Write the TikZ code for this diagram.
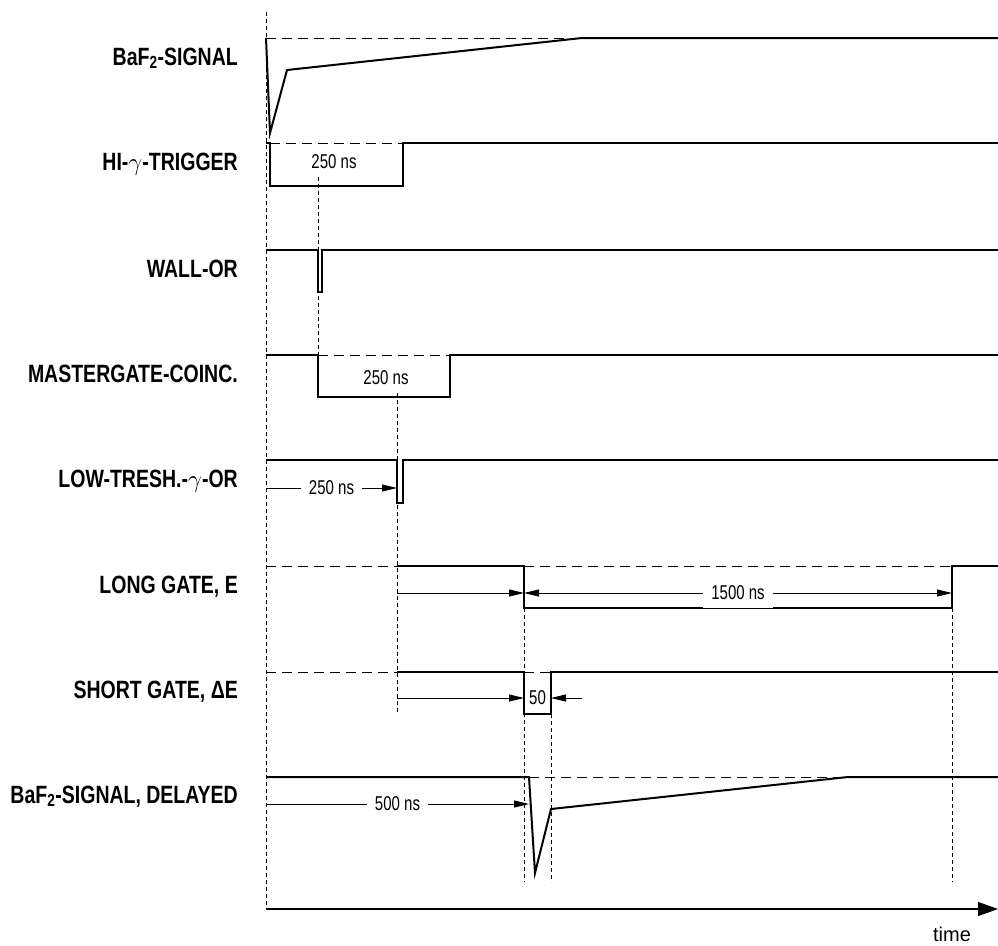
\documentclass[tikz,border=0pt]{standalone}
\usepackage{fontspec}
\setmainfont{Liberation Sans}
\newfontfamily\lblfont[FakeStretch=0.78]{Liberation Sans}
\newfontfamily\dimfont[FakeStretch=0.75]{Liberation Sans}
\usetikzlibrary{arrows.meta}
\definecolor{tdink}{RGB}{0,0,0}
\definecolor{tdpaper}{RGB}{255,255,255}
\tikzset{
  sig/.style={draw=tdink, line width=2pt, line join=miter},
  base/.style={draw=tdink, line width=0.9pt, dash pattern=on 10pt off 6pt},
  guide/.style={draw=tdink, line width=0.9pt, dash pattern=on 4pt off 3pt},
  dimarr/.style={-{Triangle[length=15pt,width=7pt]}, draw=tdink, line width=0.9pt},
  dimboth/.style={{Triangle[length=15pt,width=7pt]}-{Triangle[length=15pt,width=7pt]}, draw=tdink, line width=0.9pt},
  dimtxt/.style={inner sep=2pt, font=\dimfont\fontsize{20}{22}\selectfont},
  dimcut/.style={dimtxt, fill=tdpaper, inner sep=8pt},
  signame/.style={anchor=base east, inner sep=0pt, font=\lblfont\bfseries\fontsize{25}{28}\selectfont},
  axis/.style={-{Triangle[length=20pt,width=14pt]}, draw=tdink, line width=1.2pt}
}
\begin{document}
\begin{tikzpicture}[x=1pt,y=-1pt]
  \useasboundingbox[fill=tdpaper] (0,0) rectangle (998,945);
  \node[signame] (n1) at (238,65) {BaF\textsubscript{2}-SIGNAL};
  \node[signame] (n2) at (238,170) {HI-$\gamma$-TRIGGER};
  \node[signame] (n3) at (238,277) {WALL-OR};
  \node[signame] (n4) at (238,382) {MASTERGATE-COINC.};
  \node[signame] (n5) at (238,487) {LOW-TRESH.-$\gamma$-OR};
  \node[signame] (n6) at (238,593) {LONG GATE, E};
  \node[signame] (n7) at (238,698) {SHORT GATE, ΔE};
  \node[signame] (n8) at (238,803) {BaF\textsubscript{2}-SIGNAL, DELAYED};
  \draw[base] (266,38) -- (582,38);
  \draw[base] (270,143) -- (403,143);
  \draw[base] (318,355) -- (450,355);
  \draw[base] (266,566) -- (397,566) (524,566) -- (952,566);
  \draw[base] (266,672) -- (397,672) (524,672) -- (551,672);
  \draw[base] (529,777) -- (848,777);
  \draw[guide] (266,12) -- (266,909);
  \draw[guide] (318.5,177) -- (318.5,355);
  \draw[guide] (397,393) -- (397,713);
  \foreach \x/\y in {524/608,551/714,952/608}
    \draw[guide] (\x,\y) -- (\x,882);
  \draw[sig] (266,38) -- (270,133) -- (287,70) -- (582,38) -- (998,38);
  \draw[sig] (266,143) -- (270,143) -- (270,186) -- (403,186) -- (403,143) -- (998,143);
  \draw[sig] (266,250) -- (318,250) -- (318,292) -- (322,292) -- (322,250) -- (998,250);
  \draw[sig] (266,355) -- (318,355) -- (318,397) -- (450,397) -- (450,355) -- (998,355);
  \draw[sig] (266,460) -- (397,460) -- (397,503) -- (403,503) -- (403,460) -- (998,460);
  \draw[sig] (397,566) -- (524,566) -- (524,608) -- (952,608) -- (952,566) -- (998,566);
  \draw[sig] (397,672) -- (524,672) -- (524,714) -- (551,714) -- (551,672) -- (998,672);
  \draw[sig] (266,777) -- (529,777) -- (535,873) -- (551,809) -- (848,777) -- (998,777);
  \node[dimtxt] (w1) at (334,162) {250 ns};
  \node[dimtxt] (w2) at (386,378) {250 ns};
  \draw[dimarr] (266,488) -- node[dimcut] (w3) {250 ns} (397,488);
  \draw[dimarr] (397,593) -- (524,593);
  \draw[dimboth] (524,593) -- node[dimcut] (w4) {1500 ns} (952,593);
  \draw[dimarr] (397,698) -- (524,698);
  \node[dimtxt, inner sep=0pt] (w5) at (537.5,698) {50};
  \draw[dimarr] (582,698) -- (551,698);
  \draw[dimarr] (266,804) -- node[dimcut] (w6) {500 ns} (529,804);
  \draw[axis] (266,909) -- (998,909);
  \node[inner sep=0pt, font=\fontsize{20}{22}\selectfont] (tm) at (952,934) {time};
\end{tikzpicture}
\end{document}
